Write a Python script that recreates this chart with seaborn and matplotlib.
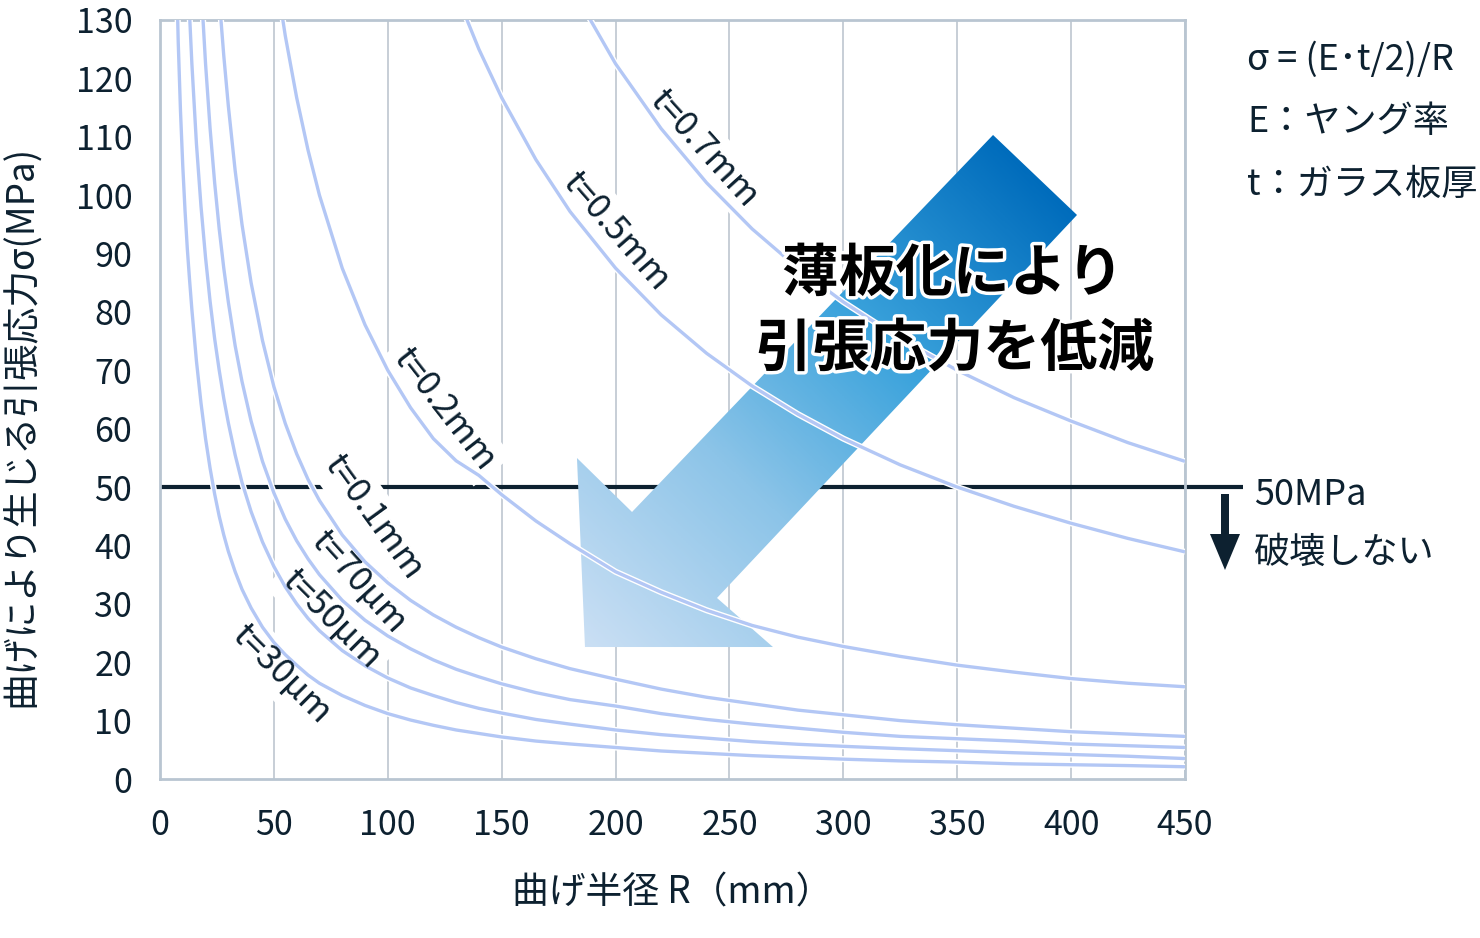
import numpy as np
import pandas as pd
import matplotlib
matplotlib.use("Agg")
import matplotlib.pyplot as plt
import matplotlib.patheffects as pe
from matplotlib.patches import Polygon, FancyArrow
from matplotlib.colors import LinearSegmentedColormap
import seaborn as sns

# ---------------- data ----------------
radius_mm = [7, 8, 9, 10, 11, 12, 13, 14, 16, 18, 20, 22, 24, 26, 28, 30, 33, 36, 40,
             45, 50, 55, 60, 65, 70, 80, 90, 100, 110, 120, 130, 140, 150, 165, 180,
             200, 220, 240, 260, 280, 300, 325, 350, 375, 400, 425, 450]

thickness_labels = ["t=0.7mm", "t=0.5mm", "t=0.2mm", "t=0.1mm", "t=70µm", "t=50µm", "t=30µm"]

# stress values (MPa) on the tail of radius_mm for each curve
sigma_07mm = [136.1, 122.5, 111.4, 102.1, 94.2, 87.5, 81.7, 75.4, 70, 65.3, 61.3, 57.6, 54.4]
sigma_05mm = [134.6, 125, 116.7, 106.1, 97.2, 87.5, 79.5, 72.9, 67.3, 62.5, 58.3, 53.8, 50,
              46.7, 43.8, 41.2, 38.9]
sigma_02mm = [140, 127.3, 116.7, 107.7, 100, 87.5, 77.8, 70, 63.6, 58.3, 54.5, 52, 48.7, 44.2,
              40.3, 35.5, 32, 28.9, 26.3, 24.3, 22.7, 21, 19.5, 18.3, 17.2, 16.4, 15.8]
sigma_01mm = [133.8, 123.9, 115.3, 104.2, 95, 85, 75.1, 67.2, 60.9, 55.7, 51.3, 47.7, 41.8, 37.2,
              33.6, 30.6, 28.1, 26, 24.2, 22.6, 20.6, 18.9, 17.1, 15.4, 14.0, 12.9, 11.8, 11.0,
              10.0, 9.3, 8.7, 8.1, 7.7, 7.3]
sigma_70um = [136.1, 122.5, 111.4, 102.1, 94.2, 87.5, 81.7, 74.2, 68.1, 61.3, 54.4, 49, 44.5,
              40.8, 37.7, 35, 30.6, 27.2, 24.5, 22.3, 20.4, 18.8, 17.5, 16.3, 14.8, 13.6, 12.5,
              11.2, 10.2, 9.4, 8.7, 8.0, 7.3, 6.9, 6.5, 6.0, 5.7, 5.4]
sigma_50um = [140.8, 130.8, 122.5, 108.8, 98.1, 89.3, 81.8, 75.4, 70, 65.2, 61, 55.5, 50.8, 45.8,
              40.6, 36.4, 32.9, 30, 27.5, 25.4, 22, 19.4, 17.3, 15.6, 14.3, 13.1, 12.1, 11.3,
              10.2, 9.4, 8.4, 7.6, 7.0, 6.4, 5.95, 5.6, 5.2, 4.85, 4.5, 4.2, 3.9, 3.5]
sigma_30um = [142.9, 126.3, 114.4, 105, 97.3, 90.8, 85.4, 80.4, 71.6, 64.4, 58.3, 53.2, 48.8,
              45, 41.8, 39, 35.5, 32.5, 29.3, 26, 23.4, 21.3, 19.5, 17.8, 16.4, 14.3, 12.6, 11.2,
              10.1, 9.2, 8.4, 7.8, 7.2, 6.5, 6.0, 5.4, 4.8, 4.4, 4.0, 3.7, 3.4, 3.1, 2.9, 2.6,
              2.45, 2.3, 2.1]

threshold_mpa = 50
x_ticks = [0, 50, 100, 150, 200, 250, 300, 350, 400, 450]
y_ticks = [0, 10, 20, 30, 40, 50, 60, 70, 80, 90, 100, 110, 120, 130]

# ---------------- annotation layout (positions / styles) ----------------
label_pos = [(238.8, 108.0), (200.3, 93.7), (124.7, 63.4), (93.9, 44.8),
             (87.0, 33.8), (75.0, 27.4), (53.2, 18.0)]
label_rot = [-48, -49, -52, -54, -48, -45, -45]

series = [sigma_07mm, sigma_05mm, sigma_02mm, sigma_01mm, sigma_70um, sigma_50um, sigma_30um]
rows = []
for lab, vals in zip(thickness_labels, series):
    rr = radius_mm[len(radius_mm) - len(vals):]
    for r, s in zip(rr, vals):
        rows.append({"R": r, "sigma": s, "t": lab})
df = pd.DataFrame(rows)

# ---------------- style ----------------
sns.set_theme(style="white")
plt.rcParams["font.family"] = ["Noto Sans CJK JP", "DejaVu Sans"]
TXT = "#0d2130"
CURVE = "#b3c7f5"
GRID = "#c3cad3"
SPINE = "#b9c5d1"
FS_TICK = 24.5
FS_AX = 26.5
FS_LAB = 25
FS_NOTE = 26

fig = plt.figure(figsize=(14.8, 9.38), dpi=100)
ax = fig.add_axes([0.1081, 0.1695, 0.6926, 0.8092])

sns.lineplot(data=df, x="R", y="sigma", hue="t", palette=[CURVE] * 7, legend=False,
             estimator=None, sort=False, linewidth=2.4, ax=ax, zorder=4)
for ln in ax.lines:
    ln.set_path_effects([pe.Stroke(linewidth=4.4, foreground="white"), pe.Normal()])
    ln.set_solid_capstyle("butt")

ax.set_xlim(0, 450)
ax.set_ylim(0, 130)
ax.set_xticks(x_ticks)
ax.set_yticks(y_ticks)
ax.tick_params(axis="both", length=0, labelsize=FS_TICK, labelcolor=TXT)
ax.tick_params(axis="y", pad=20)
ax.tick_params(axis="x", pad=21)
ax.grid(axis="x", color=GRID, linewidth=1.3, zorder=0)
ax.set_axisbelow(True)
for sp in ax.spines.values():
    sp.set_color(SPINE)
    sp.set_linewidth(2)

ax.set_xlabel("曲げ半径 R（mm）", fontsize=FS_AX, color=TXT, labelpad=22)
ax.set_ylabel("曲げにより生じる引張応力σ(MPa)", fontsize=FS_AX, color=TXT)
ax.yaxis.set_label_coords(-0.117, 0.465)

# 50 MPa threshold line extending beyond the axes
trans = matplotlib.transforms.blended_transform_factory(ax.transAxes, ax.transData)
ax.plot([0, 1.0566], [threshold_mpa, threshold_mpa], color=TXT, linewidth=3.0,
        transform=trans, clip_on=False, zorder=2, solid_capstyle="butt")

# curve labels: white boxes under the curves, glyphs above them
for lab, (x, y), rot in zip(thickness_labels, label_pos, label_rot):
    ax.text(x, y, lab, rotation=rot, rotation_mode="anchor", ha="center", va="center",
            fontsize=FS_LAB, color="none", zorder=3,
            bbox=dict(boxstyle="square,pad=0.2", fc="white", ec="none"))
    ax.text(x, y, lab, rotation=rot, rotation_mode="anchor", ha="center", va="center",
            fontsize=FS_LAB, color=TXT, zorder=5)

# gradient arrow
verts = [(0.4068, 0.4229), (0.4605, 0.3518), (0.8127, 0.8485), (0.8946, 0.7431),
         (0.5434, 0.2385), (0.5980, 0.1739), (0.4146, 0.1739)]
poly = Polygon(verts, closed=True, transform=ax.transAxes, fc="none", ec="none")
ax.add_patch(poly)
nx, ny = 600, 450
gx, gy = np.meshgrid(np.linspace(0, 1, nx), np.linspace(0, 1, ny))
s = gx * 1025 * 0.686 + gy * 759 * 0.727
s = np.clip((s - 388) / (1039 - 388), 0, 1)
cmap = LinearSegmentedColormap.from_list(
    "arr", [(0, "#cadff4"), (0.35, "#8cc4e8"), (0.65, "#3ba3dc"), (1, "#006cbc")])
im = ax.imshow(s, cmap=cmap, origin="lower", extent=(0, 1, 0, 1), transform=ax.transAxes,
               aspect="auto", zorder=3.5, vmin=0, vmax=1, interpolation="bilinear")
im.set_clip_path(poly)
ax.set_xlim(0, 450)
ax.set_ylim(0, 130)

# big message
big_fx = [pe.Stroke(linewidth=5, foreground="white"), pe.Normal()]
fig.text(953 / 1480, 1 - 274 / 938, "薄板化により", fontsize=41, fontweight="bold",
         color="black", ha="center", va="center", zorder=6, path_effects=big_fx)
fig.text(955 / 1480, 1 - 349 / 938, "引張応力を低減", fontsize=41, fontweight="bold",
         color="black", ha="center", va="center", zorder=6, path_effects=big_fx)

# right-hand notes
for txt, py in [("σ = (E･t/2)/R", 60), ("E：ヤング率", 122), ("t：ガラス板厚", 185)]:
    fig.text(1247 / 1480, 1 - py / 938, txt, fontsize=FS_NOTE, color=TXT, ha="left", va="center")
fig.text(1254 / 1480, 1 - 495 / 938, "50MPa", fontsize=FS_NOTE, color=TXT, ha="left", va="center")
fig.text(1254 / 1480, 1 - 553 / 938, "破壊しない", fontsize=FS_NOTE, color=TXT, ha="left", va="center")

arr = FancyArrow(1225 / 1480, 1 - 494 / 938, 0, -(570 - 494) / 938, width=8 / 1480,
                 head_width=30 / 1480, head_length=36 / 938, length_includes_head=True,
                 transform=fig.transFigure, color=TXT, lw=0)
fig.patches.append(arr)

fig.savefig("out.png", dpi=100, facecolor="white")
